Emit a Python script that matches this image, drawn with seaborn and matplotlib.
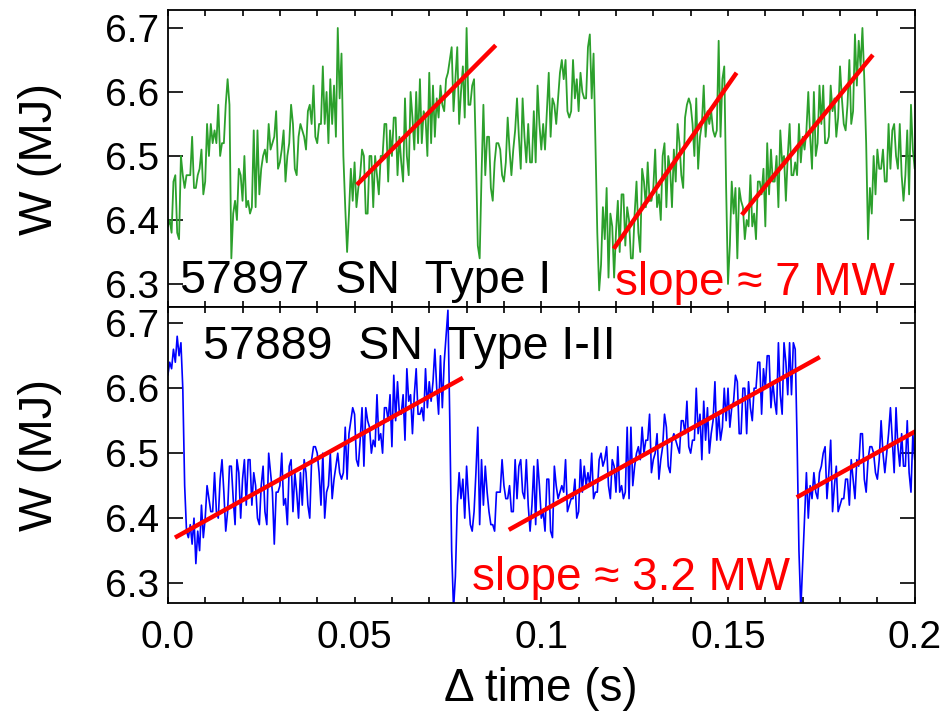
import numpy as np
import pandas as pd
import matplotlib
matplotlib.use("Agg")
import matplotlib.pyplot as plt
from matplotlib.ticker import MultipleLocator, FixedLocator, FixedFormatter
import seaborn as sns

# Stored energy W (MJ) sampled every DT seconds, relative to the window start
DT = 0.0005

w_57897 = [
    6.39, 6.40, 6.38, 6.46, 6.47, 6.38, 6.37, 6.50, 6.47, 6.45,
    6.47, 6.47, 6.47, 6.53, 6.45, 6.45, 6.47, 6.48, 6.51, 6.44,
    6.46, 6.55, 6.50, 6.55, 6.52, 6.54, 6.52, 6.58, 6.50, 6.52,
    6.52, 6.58, 6.62, 6.58, 6.34, 6.41, 6.43, 6.40, 6.48, 6.47,
    6.43, 6.50, 6.42, 6.43, 6.41, 6.42, 6.54, 6.42, 6.54, 6.44,
    6.48, 6.50, 6.51, 6.49, 6.55, 6.51, 6.52, 6.53, 6.57, 6.48,
    6.49, 6.51, 6.54, 6.46, 6.50, 6.52, 6.58, 6.55, 6.48, 6.47,
    6.53, 6.55, 6.54, 6.53, 6.51, 6.57, 6.58, 6.55, 6.61, 6.53,
    6.52, 6.55, 6.55, 6.64, 6.55, 6.60, 6.52, 6.62, 6.55, 6.61,
    6.53, 6.70, 6.59, 6.66, 6.50, 6.42, 6.35, 6.41, 6.48, 6.43,
    6.49, 6.42, 6.45, 6.47, 6.51, 6.50, 6.41, 6.41, 6.50, 6.50,
    6.42, 6.50, 6.47, 6.44, 6.50, 6.50, 6.55, 6.55, 6.46, 6.54,
    6.50, 6.56, 6.56, 6.47, 6.53, 6.49, 6.46, 6.59, 6.50, 6.47,
    6.60, 6.56, 6.51, 6.60, 6.52, 6.62, 6.52, 6.57, 6.56, 6.50,
    6.63, 6.52, 6.61, 6.53, 6.59, 6.56, 6.61, 6.58, 6.57, 6.62,
    6.63, 6.65, 6.67, 6.57, 6.62, 6.67, 6.55, 6.60, 6.64, 6.56,
    6.70, 6.58, 6.58, 6.61, 6.62, 6.50, 6.36, 6.34, 6.47, 6.58,
    6.47, 6.53, 6.53, 6.45, 6.43, 6.49, 6.52, 6.52, 6.51, 6.47,
    6.46, 6.49, 6.56, 6.51, 6.47, 6.51, 6.54, 6.59, 6.53, 6.48,
    6.59, 6.53, 6.49, 6.55, 6.49, 6.49, 6.57, 6.49, 6.61, 6.55,
    6.51, 6.55, 6.51, 6.57, 6.63, 6.53, 6.59, 6.58, 6.55, 6.59,
    6.63, 6.65, 6.62, 6.65, 6.57, 6.56, 6.57, 6.65, 6.59, 6.62,
    6.57, 6.63, 6.60, 6.59, 6.59, 6.67, 6.69, 6.59, 6.66, 6.52,
    6.38, 6.29, 6.33, 6.42, 6.37, 6.45, 6.31, 6.41, 6.39, 6.31,
    6.38, 6.43, 6.35, 6.44, 6.44, 6.36, 6.42, 6.40, 6.34, 6.34,
    6.41, 6.46, 6.38, 6.35, 6.48, 6.46, 6.42, 6.49, 6.43, 6.43,
    6.45, 6.51, 6.42, 6.44, 6.40, 6.50, 6.52, 6.42, 6.50, 6.48,
    6.42, 6.51, 6.46, 6.55, 6.52, 6.47, 6.45, 6.56, 6.58, 6.59,
    6.58, 6.55, 6.50, 6.59, 6.48, 6.53, 6.55, 6.61, 6.53, 6.57,
    6.55, 6.57, 6.54, 6.53, 6.54, 6.68, 6.53, 6.62, 6.64, 6.45,
    6.30, 6.36, 6.46, 6.41, 6.45, 6.34, 6.45, 6.43, 6.42, 6.37,
    6.40, 6.39, 6.47, 6.39, 6.41, 6.37, 6.46, 6.46, 6.44, 6.48,
    6.39, 6.52, 6.44, 6.51, 6.46, 6.46, 6.50, 6.42, 6.54, 6.49,
    6.50, 6.43, 6.50, 6.55, 6.47, 6.47, 6.49, 6.47, 6.55, 6.49,
    6.53, 6.51, 6.54, 6.60, 6.53, 6.48, 6.60, 6.50, 6.52, 6.61,
    6.55, 6.61, 6.52, 6.52, 6.53, 6.61, 6.57, 6.59, 6.53, 6.56,
    6.64, 6.59, 6.55, 6.54, 6.58, 6.65, 6.55, 6.57, 6.69, 6.61,
    6.68, 6.64, 6.70, 6.62, 6.52, 6.37, 6.45, 6.41, 6.50, 6.44,
    6.51, 6.48, 6.48, 6.51, 6.46, 6.46, 6.55, 6.48, 6.54, 6.55,
    6.50, 6.48, 6.55, 6.47, 6.43, 6.47, 6.54, 6.44, 6.58, 6.51,
    6.48,
]

w_57889 = [
    6.62, 6.64, 6.63, 6.66, 6.64, 6.68, 6.65, 6.67, 6.60, 6.45,
    6.38, 6.37, 6.39, 6.36, 6.40, 6.33, 6.38, 6.35, 6.42, 6.37,
    6.40, 6.45, 6.43, 6.41, 6.41, 6.47, 6.41, 6.40, 6.46, 6.49,
    6.44, 6.38, 6.41, 6.48, 6.48, 6.43, 6.39, 6.49, 6.47, 6.40,
    6.46, 6.49, 6.42, 6.49, 6.49, 6.42, 6.47, 6.45, 6.40, 6.39,
    6.45, 6.48, 6.41, 6.39, 6.50, 6.47, 6.44, 6.36, 6.44, 6.44,
    6.45, 6.50, 6.42, 6.43, 6.39, 6.48, 6.49, 6.41, 6.47, 6.44,
    6.40, 6.47, 6.42, 6.49, 6.47, 6.42, 6.40, 6.49, 6.51, 6.51,
    6.50, 6.47, 6.42, 6.50, 6.40, 6.44, 6.45, 6.50, 6.43, 6.46,
    6.48, 6.50, 6.47, 6.46, 6.47, 6.54, 6.46, 6.53, 6.55, 6.57,
    6.56, 6.49, 6.48, 6.52, 6.57, 6.48, 6.57, 6.55, 6.54, 6.50,
    6.52, 6.51, 6.59, 6.52, 6.53, 6.50, 6.57, 6.57, 6.55, 6.59,
    6.51, 6.62, 6.55, 6.61, 6.56, 6.56, 6.59, 6.52, 6.63, 6.58,
    6.59, 6.53, 6.59, 6.63, 6.56, 6.56, 6.57, 6.55, 6.63, 6.57,
    6.61, 6.58, 6.61, 6.66, 6.60, 6.56, 6.65, 6.57, 6.64, 6.68,
    6.72, 6.55, 6.35, 6.26, 6.31, 6.42, 6.47, 6.43, 6.46, 6.40,
    6.48, 6.43, 6.39, 6.38, 6.41, 6.47, 6.54, 6.39, 6.49, 6.42,
    6.48, 6.44, 6.41, 6.39, 6.39, 6.38, 6.44, 6.44, 6.44, 6.49,
    6.45, 6.43, 6.43, 6.45, 6.41, 6.41, 6.49, 6.43, 6.48, 6.49,
    6.44, 6.43, 6.49, 6.42, 6.38, 6.42, 6.48, 6.39, 6.49, 6.45,
    6.40, 6.41, 6.38, 6.46, 6.46, 6.38, 6.37, 6.48, 6.45, 6.43,
    6.44, 6.45, 6.44, 6.49, 6.41, 6.42, 6.43, 6.43, 6.46, 6.40,
    6.41, 6.49, 6.44, 6.48, 6.45, 6.47, 6.45, 6.50, 6.43, 6.44,
    6.44, 6.49, 6.50, 6.48, 6.49, 6.51, 6.45, 6.43, 6.49, 6.48,
    6.44, 6.51, 6.44, 6.45, 6.43, 6.44, 6.54, 6.43, 6.54, 6.45,
    6.48, 6.50, 6.51, 6.49, 6.54, 6.50, 6.52, 6.52, 6.56, 6.47,
    6.49, 6.50, 6.53, 6.46, 6.49, 6.51, 6.56, 6.54, 6.48, 6.47,
    6.52, 6.53, 6.52, 6.51, 6.50, 6.55, 6.55, 6.53, 6.58, 6.51,
    6.50, 6.52, 6.52, 6.60, 6.53, 6.56, 6.49, 6.58, 6.52, 6.57,
    6.50, 6.53, 6.55, 6.61, 6.52, 6.56, 6.52, 6.54, 6.60, 6.55,
    6.60, 6.54, 6.57, 6.58, 6.62, 6.61, 6.53, 6.53, 6.60, 6.60,
    6.53, 6.61, 6.57, 6.55, 6.60, 6.60, 6.64, 6.64, 6.56, 6.63,
    6.60, 6.65, 6.65, 6.57, 6.61, 6.58, 6.56, 6.67, 6.59, 6.56,
    6.67, 6.64, 6.59, 6.67, 6.59, 6.67, 6.66, 6.52, 6.35, 6.26,
    6.33, 6.40, 6.47, 6.40, 6.45, 6.43, 6.47, 6.44, 6.43, 6.47,
    6.48, 6.50, 6.51, 6.43, 6.47, 6.52, 6.41, 6.45, 6.48, 6.41,
    6.42, 6.43, 6.43, 6.46, 6.46, 6.42, 6.49, 6.46, 6.43, 6.49,
    6.48, 6.53, 6.53, 6.46, 6.44, 6.49, 6.51, 6.51, 6.50, 6.47,
    6.46, 6.49, 6.55, 6.50, 6.47, 6.50, 6.53, 6.57, 6.52, 6.47,
    6.57, 6.51, 6.48, 6.53, 6.48, 6.48, 6.55, 6.47, 6.44, 6.53,
    6.49,
]

# Linear fits to the rising phases between sawtooth crashes: start/end time (s) and W (MJ)
fit_57897_t0 = [0.0506, 0.1194, 0.1537]
fit_57897_t1 = [0.0878, 0.1523, 0.1888]
fit_57897_w0 = [6.455, 6.355, 6.408]
fit_57897_w1 = [6.673, 6.630, 6.658]

fit_57889_t0 = [0.0019, 0.0913, 0.1684]
fit_57889_t1 = [0.0790, 0.1746, 0.2003]
fit_57889_w0 = [6.370, 6.382, 6.432]
fit_57889_w1 = [6.616, 6.648, 6.534]

x_ticks = [0.0, 0.05, 0.1, 0.15, 0.2]
x_tick_labels = ["0.0", "0.05", "0.1", "0.15", "0.2"]
y_ticks = [6.3, 6.4, 6.5, 6.6, 6.7]
y_tick_labels = ["6.3", "6.4", "6.5", "6.6", "6.7"]

shot_labels = ["57897  SN  Type I", "57889  SN  Type I-II"]
trace_colors = ["#2ca02c", "#0000ff"]
trace_widths = [1.3, 1.2]
fit_color = "#ff0000"

sns.set_theme(style="white")
plt.rcParams["font.family"] = ["Liberation Sans", "DejaVu Sans"]


def trace_frame(values):
    t = np.arange(len(values)) * DT
    return pd.DataFrame({"t": t, "W": values})


def fit_frame(t0, t1, w0, w1):
    rows = []
    for k in range(len(t0)):
        rows.append({"seg": k, "t": t0[k], "W": w0[k]})
        rows.append({"seg": k, "t": t1[k], "W": w1[k]})
    return pd.DataFrame(rows)


def mean_slope(t0, t1, w0, w1):
    # MJ/s is MW
    return float(np.mean([(b - a) / (d - c) for a, b, c, d in zip(w0, w1, t0, t1)]))


fig = plt.figure(figsize=(9.43, 7.19), dpi=100)
ax_top = fig.add_axes([0.178, 0.573, 0.792, 0.413])
ax_bot = fig.add_axes([0.178, 0.161, 0.792, 0.412])

panels = [
    (ax_top, w_57897, (fit_57897_t0, fit_57897_t1, fit_57897_w0, fit_57897_w1),
     (6.264, 6.728), trace_colors[0], trace_widths[0]),
    (ax_bot, w_57889, (fit_57889_t0, fit_57889_t1, fit_57889_w0, fit_57889_w1),
     (6.269, 6.725), trace_colors[1], trace_widths[1]),
]

for ax, w, fit, ylim, color, lw in panels:
    sns.lineplot(data=trace_frame(w), x="t", y="W", ax=ax, color=color,
                 linewidth=lw, estimator=None, legend=False)
    sns.lineplot(data=fit_frame(*fit), x="t", y="W", units="seg", ax=ax,
                 color=fit_color, linewidth=3.2, estimator=None, legend=False,
                 solid_capstyle="butt")
    ax.set_xlim(0.0, 0.2)
    ax.set_ylim(*ylim)
    ax.xaxis.set_major_locator(FixedLocator(x_ticks))
    ax.xaxis.set_major_formatter(FixedFormatter(x_tick_labels))
    ax.xaxis.set_minor_locator(MultipleLocator(0.01))
    ax.yaxis.set_major_locator(FixedLocator(y_ticks))
    ax.yaxis.set_major_formatter(FixedFormatter(y_tick_labels))
    ax.tick_params(axis="x", which="both", direction="in", length=4, width=1.2,
                   top=True, bottom=True, labelsize=28, pad=12, colors="black")
    ax.tick_params(axis="y", which="major", direction="in", length=11, width=1.2,
                   left=True, right=True, labelsize=28, pad=6, colors="black")
    for s in ax.spines.values():
        s.set_color("black")
        s.set_linewidth(1.3)
    ax.set_ylabel("W (MJ)", fontsize=34, color="black")
    ax.yaxis.set_label_coords(-0.142, 0.5)
    ax.set_xlabel("")

ax_top.tick_params(axis="x", which="both", labelbottom=False)
ax_bot.set_xlabel("\u0394 time (s)", fontsize=33, color="black", labelpad=8)

slope_top = mean_slope(fit_57897_t0, fit_57897_t1, fit_57897_w0, fit_57897_w1)
slope_bot = mean_slope(fit_57889_t0, fit_57889_t1, fit_57889_w0, fit_57889_w1)

ax_top.text(0.0032, 6.286, shot_labels[0], fontsize=33.5, color="black",
            ha="left", va="baseline")
ax_top.text(0.1197, 6.283, f"slope \u2248 {slope_top:.0f} MW", fontsize=33,
            color=fit_color, ha="left", va="baseline")
ax_bot.text(0.0095, 6.645, shot_labels[1], fontsize=33.5, color="black",
            ha="left", va="baseline")
ax_bot.text(0.0814, 6.289, f"slope \u2248 {slope_bot:.1f} MW", fontsize=33,
            color=fit_color, ha="left", va="baseline")

fig.savefig("out.png", dpi=100)
